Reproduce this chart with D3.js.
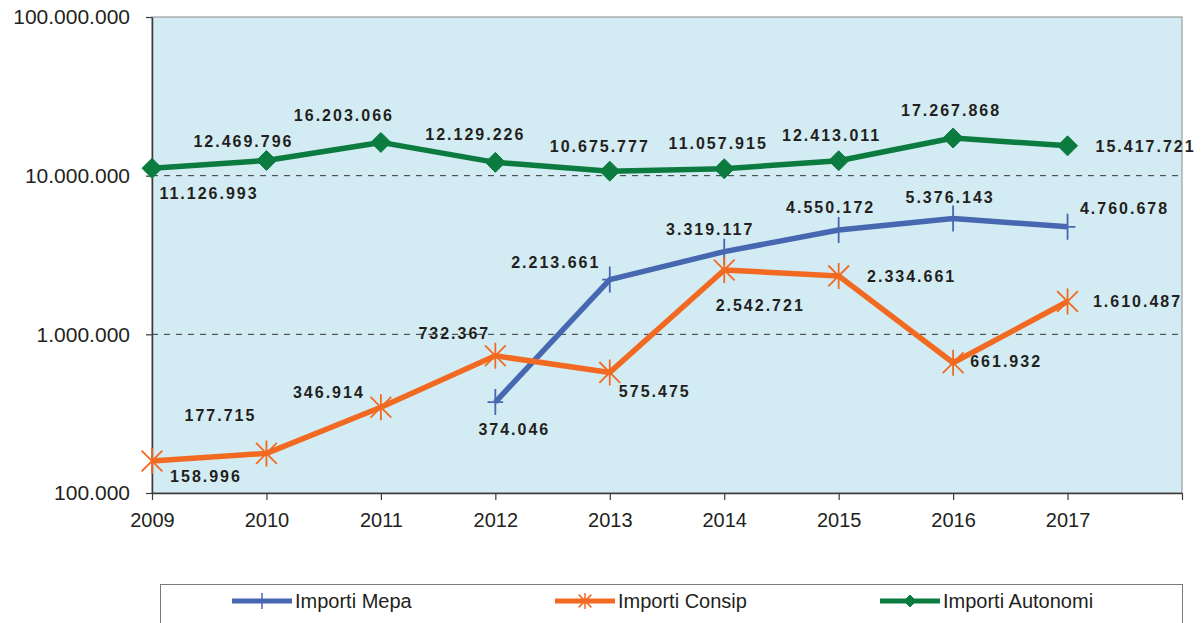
<!DOCTYPE html>
<html>
<head>
<meta charset="utf-8">
<script src="https://cdn.jsdelivr.net/npm/d3@7"></script>
<style>
  body { margin: 0; background: #fff; }
  svg { display: block; }
  text { font-family: Arial, "Liberation Sans", sans-serif; fill: #231f20; }
</style>
</head>
<body>
<div id="chart"></div>
<script>
// Data
const years = [2009, 2010, 2011, 2012, 2013, 2014, 2015, 2016, 2017];
const mepa = [null, null, null, 374046, 2213661, 3319117, 4550172, 5376143, 4760678];
const consip = [158996, 177715, 346914, 732367, 575475, 2542721, 2334661, 661932, 1610487];
const autonomi = [11126993, 12469796, 16203066, 12129226, 10675777, 11057915, 12413011, 17267868, 15417721];
const yTicks = [100000, 1000000, 10000000, 100000000];
const seriesNames = ["Importi Mepa", "Importi Consip", "Importi Autonomi"];

// label offsets from each point (layout only)
const mepaLabelPos = [null, null, null, [19, 27], [-54, -17], [-14, -22], [-8, -23], [-3, -21], [57, -18]];
const consipLabelPos = [[54, 15], [-46, -38], [-52, -15], [-41, -22], [45, 19], [36, 35], [73, 0], [53, -1], [70, 0]];
const autoLabelPos = [[57, 25], [-23, -19], [-37, -27], [-20, -28], [-10, -25], [-6, -25], [-7, -25], [-2, -28], [78, 1]];

const fmt = v => d3.format(",")(v).replace(/,/g, ".");

const width = 1201, height = 623;
const margin = {top: 17, right: 19, bottom: 130, left: 152};
const svg = d3.select("#chart").append("svg")
  .attr("width", width).attr("height", height);

const x = d3.scaleLinear().domain([2009, 2018]).range([margin.left, width - margin.right]);
const y = d3.scaleLog().domain([100000, 100000000]).range([height - margin.bottom, margin.top]);

// plot background
svg.append("rect")
  .attr("x", x(2009)).attr("y", y(100000000))
  .attr("width", x(2018) - x(2009)).attr("height", y(100000) - y(100000000))
  .attr("fill", "#d3ecf3").attr("stroke", "#8c8c8c").attr("stroke-width", 1);

// dashed gridlines
svg.append("g").selectAll("line")
  .data([1000000, 10000000])
  .enter().append("line")
    .attr("x1", x(2009)).attr("x2", x(2018))
    .attr("y1", d => y(d)).attr("y2", d => y(d))
    .attr("stroke", "#231f20").attr("stroke-width", 0.9)
    .attr("stroke-dasharray", "6,6");

// axes
const yAxis = svg.append("g")
  .attr("transform", "translate(" + x(2009) + ",0)")
  .call(d3.axisLeft(y).tickValues(yTicks).tickFormat(fmt).tickSize(6).tickSizeOuter(0).tickPadding(16));
yAxis.selectAll("text").style("font-size", "21px").attr("fill", "#231f20");

const xAxis = svg.append("g")
  .attr("transform", "translate(0," + y(100000) + ")")
  .call(d3.axisBottom(x).tickValues(d3.range(2009, 2019)).tickFormat(d => d === 2018 ? "" : d)
    .tickSize(7).tickSizeOuter(0).tickPadding(13));
xAxis.selectAll("text").style("font-size", "20px").attr("fill", "#231f20");
[yAxis, xAxis].forEach(a => {
  a.select(".domain").attr("stroke", "#3a3a3a").attr("stroke-width", 1.5);
  a.selectAll(".tick line").attr("stroke", "#3a3a3a").attr("stroke-width", 1.2);
});

// series
const series = [
  {name: seriesNames[0], values: mepa, color: "#4767b1", marker: "plus", labels: mepaLabelPos},
  {name: seriesNames[1], values: consip, color: "#f26a22", marker: "star", labels: consipLabelPos},
  {name: seriesNames[2], values: autonomi, color: "#0b7b3f", marker: "diamond", labels: autoLabelPos}
];

function markerPath(type, s) {
  if (type === "plus") return `M0,${-s}V${s}M${-s * 0.6},0H${s * 0.6}`;
  if (type === "star") {
    const a = s * 0.8;
    return `M0,${-s}V${s}M${-a},${-a}L${a},${a}M${-a},${a}L${a},${-a}`;
  }
  return `M0,${-s}L${s},0L0,${s}L${-s},0Z`;
}

const line = d3.line()
  .defined(d => d.v != null)
  .x(d => x(d.year))
  .y(d => y(d.v));

series.forEach(s => {
  const pts = years.map((yr, i) => ({year: yr, v: s.values[i], off: s.labels[i]}));
  const g = svg.append("g");
  g.append("path")
    .datum(pts)
    .attr("fill", "none")
    .attr("stroke", s.color)
    .attr("stroke-width", 5.5)
    .attr("stroke-linejoin", "round")
    .attr("d", line);

  const valid = pts.filter(d => d.v != null);
  g.selectAll(".mk")
    .data(valid)
    .enter().append("path")
      .attr("transform", d => `translate(${x(d.year)},${y(d.v)})`)
      .attr("d", markerPath(s.marker, s.marker === "diamond" ? 10 : 13))
      .attr("fill", s.marker === "diamond" ? s.color : "none")
      .attr("stroke", s.color)
      .attr("stroke-width", s.marker === "diamond" ? 1 : 1.8);

  g.selectAll(".lbl")
    .data(valid)
    .enter().append("text")
      .attr("x", d => x(d.year) + d.off[0])
      .attr("y", d => y(d.v) + d.off[1])
      .attr("text-anchor", "middle")
      .attr("dy", "0.35em")
      .style("font-size", "16px")
      .style("font-weight", "bold")
      .style("letter-spacing", "2px")
      .text(d => fmt(d.v));
});

// legend
const legend = svg.append("g");
legend.append("rect")
  .attr("x", 160.5).attr("y", 584.5)
  .attr("width", 1022).attr("height", 60)
  .attr("fill", "#fff").attr("stroke", "#7a7a7a").attr("stroke-width", 1);

const legendX = [232, 555, 880];
series.forEach((s, i) => {
  const lg = legend.append("g").attr("transform", `translate(${legendX[i]},601)`);
  lg.append("line").attr("x1", 0).attr("x2", 60)
    .attr("stroke", s.color).attr("stroke-width", 5);
  lg.append("path")
    .attr("transform", "translate(30,0)")
    .attr("d", markerPath(s.marker, s.marker === "diamond" ? 6 : 8))
    .attr("fill", s.marker === "diamond" ? s.color : "none")
    .attr("stroke", s.color).attr("stroke-width", s.marker === "diamond" ? 1 : 1.5);
  lg.append("text").attr("x", 63).attr("dy", "0.35em")
    .style("font-size", "20px").text(s.name);
});
</script>
</body>
</html>
